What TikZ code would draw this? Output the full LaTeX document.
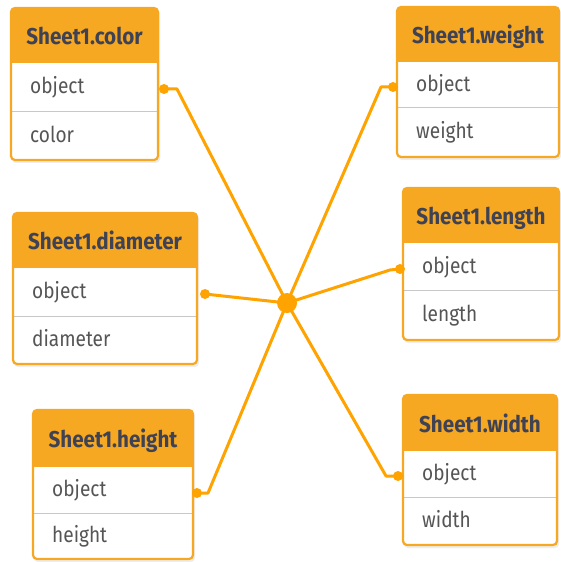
\documentclass[tikz,border=0pt]{standalone}
\usepackage{fontspec}
\setmainfont{Fira Sans}
\newfontfamily\hfont[FakeStretch=0.9]{Fira Sans}
\newfontfamily\ffont[FakeStretch=0.87]{Fira Sans}
\definecolor{hdr}{HTML}{F6A822}
\definecolor{lnk}{HTML}{FFA300}
\definecolor{hdrtxt}{HTML}{3E4254}
\definecolor{fldtxt}{HTML}{555555}
\definecolor{sepc}{HTML}{C8C8C8}
\tikzset{
  hdrtext/.style={font=\hfont\fontsize{23}{26}\selectfont\bfseries, text=hdrtxt, inner sep=0pt, anchor=base},
  fldtext/.style={font=\ffont\fontsize{22}{25}\selectfont, text=fldtxt, inner sep=0pt, anchor=base west},
  tabborder/.style={draw=hdr, line width=2.2bp, rounded corners=4bp},
  link/.style={draw=lnk, line width=3bp, line join=round},
  portdot/.style={fill=lnk},
}
% #1 name, #2 left, #3 right, #4 top, #5 header bottom, #6 separator, #7 bottom, #8 title, #9 field
\newcommand\dbtab[9]{%
  \fill[black!7, rounded corners=4bp] (#2+1,#4+2) rectangle (#3+2,#7+3);
  \fill[white, rounded corners=4bp] (#2,#4) rectangle (#3,#7);
  \begin{scope}
    \clip[rounded corners=4bp] (#2,#4) rectangle (#3,#7);
    \fill[hdr] (#2,#4) rectangle (#3,#5);
  \end{scope}
  \draw[sepc, line width=1bp] (#2,#6) -- (#3,#6);
  \draw[tabborder] (#2,#4) rectangle (#3,#7);
  \node[hdrtext] (#1-h) at ({(#2+#3)/2},{(#4+#5)/2+9}) {#8};
  \node[fldtext] (#1-o) at (#2+19,{(#5+#6)/2+6.5}) {object};
  \node[fldtext] (#1-f) at (#2+19,{(#6+#7)/2+6.5}) {#9};
}
\begin{document}
\begin{tikzpicture}[x=1bp,y=-1bp]
\useasboundingbox (0,0) rectangle (561,562);
\fill[white] (0,0) rectangle (561,562);
\dbtab{color}{11}{158}{8}{63}{112}{160}{Sheet1.color}{color}
\dbtab{weight}{397}{559}{7}{62}{108}{157}{Sheet1.weight}{weight}
\dbtab{diameter}{13}{197}{213}{268}{316}{364}{Sheet1.diameter}{diameter}
\dbtab{length}{403}{559}{188}{243}{290}{340}{Sheet1.length}{length}
\dbtab{height}{33}{193}{410}{467}{513}{559}{Sheet1.height}{height}
\dbtab{width}{403}{557}{395}{451}{497}{545}{Sheet1.width}{width}
% ports and elbows
\coordinate (pc) at (164,89);  \coordinate (ec) at (177,89);
\coordinate (pd) at (205,294); \coordinate (ed) at (214,295);
\coordinate (ph) at (197,493); \coordinate (eh) at (208,493);
\coordinate (pw) at (393,87);  \coordinate (ew) at (381,87);
\coordinate (pl) at (400,269); \coordinate (el) at (390,270);
\coordinate (pi) at (398,476); \coordinate (ei) at (386,476);
\coordinate (hub) at (287,303);
\foreach \p/\e in {pc/ec,pd/ed,ph/eh,pw/ew,pl/el,pi/ei}{
  \draw[link] (hub) -- (\e) -- (\p);
  \fill[portdot] (\p) circle (5);
}
\node[circle, fill=lnk, minimum size=20bp, inner sep=0pt] (hubn) at (hub) {};
\end{tikzpicture}
\end{document}
